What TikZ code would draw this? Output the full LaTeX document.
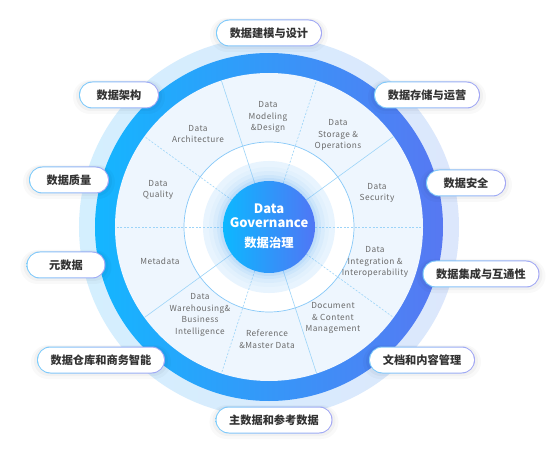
\documentclass[tikz,border=0pt]{standalone}
\usepackage{fontspec}
\setmainfont{Noto Sans CJK SC}
\newfontfamily\segfont[LetterSpace=5]{Noto Sans CJK SC}
\usetikzlibrary{calc}
\definecolor{lightL}{HTML}{D4EFFE}
\definecolor{lightR}{HTML}{DCE7FC}
\definecolor{ringL}{HTML}{14B6FF}
\definecolor{ringR}{HTML}{5778F2}
\definecolor{innerbg}{HTML}{EEF6FE}
\definecolor{discbg}{HTML}{E8F4FE}
\definecolor{ringline}{HTML}{86C8F8}
\definecolor{linec}{HTML}{9DD4F8}
\definecolor{cenL}{HTML}{0CB8FF}
\definecolor{cenR}{HTML}{5076F5}
\definecolor{segtext}{HTML}{6A6A6A}
\definecolor{pilltext}{HTML}{333333}
\definecolor{pillL}{HTML}{7CCCFB}
\definecolor{pillR}{HTML}{A3A6F4}
\newcommand\pillbox[5]{%
  \fill[black,opacity=0.025,rounded corners=17pt] (#2-#4/2-6,#3-19) rectangle (#2+#4/2+6,#3+15);
  \fill[black,opacity=0.03,rounded corners=15pt] (#2-#4/2-3,#3-16) rectangle (#2+#4/2+3,#3+14);
  \shade[left color=pillL, right color=pillR, rounded corners=13.4pt] (#2-#4/2,#3-13.5) rectangle (#2+#4/2,#3+13.5);
  \node[pill, minimum width=#4pt-2pt] (#1) at (#2,#3) {#5};%
}
\begin{document}
\begin{tikzpicture}[x=1pt,y=1pt,
  seg/.style={font=\segfont\fontsize{8.3}{11.7}\selectfont, text=segtext, align=center, inner sep=0pt},
  pill/.style={fill=white, rounded corners=12.4pt, minimum height=25pt, inner sep=0pt,
    font=\bfseries\fontsize{11.2}{13}\selectfont, text=pilltext},
  solidline/.style={draw=linec, line width=0.6pt},
  dashline/.style={draw=linec, line width=0.6pt, dash pattern=on 2pt off 1.6pt},
  centxt/.style={text=white, font=\bfseries\fontsize{13}{15}\selectfont, inner sep=0pt},
  centxtb/.style={text=white, font=\bfseries\fontsize{12.3}{14}\selectfont, inner sep=0pt}]
\useasboundingbox (-269,-225) rectangle (285,227);
\fill[white] (-269,-225) rectangle (285,227);
% rings
\shade[left color=lightL, right color=lightR] (0,0) circle (190pt);
\shade[left color=ringL, right color=ringR] (0,0) circle (174pt);
\fill[innerbg] (0,0) circle (154pt);
\fill[white] (0,0) circle (85pt);
\draw[ringline, line width=0.7pt] (0,0) circle (85pt);
\fill[discbg] (0,0) circle (66pt);
% dividers
\foreach \a in {36,108,216,288} \draw[solidline] (\a:46) -- (\a:154);
\foreach \a in {0,72,144,180,252,324} \draw[dashline] (\a:46) -- (\a:154);
% center glow and circle
\foreach \r/\o in {60/0.03,56/0.05,52/0.07,49/0.09} \fill[ringR!50!ringL, opacity=\o] (0,0) circle (\r pt);
\node[circle, minimum size=92pt, inner sep=0pt, left color=cenL, right color=cenR] (gov) at (0,0) {};
\node[centxt] (gov1) at (0,18.5) {Data};
\node[centxt] (gov2) at (0,4.5) {Governance};
\node[centxtb] (gov3) at (0,-16) {数据治理};
% segment labels
\node[seg] (s1) at (-1,110) {Data\\Modeling\\\&Design};
\node[seg] (s2) at (69,92) {Data\\Storage \&\\Operations};
\node[seg] (s3) at (108,34) {Data\\Security};
\node[seg] (s4) at (106,-35) {Data\\Integration \&\\Interoperability};
\node[seg] (s5) at (64,-91) {Document\\\& Content\\Management};
\node[seg] (s6) at (-2,-112) {Reference\\\&Master Data};
\node[seg] (s7) at (-69,-88) {Data\\Warehousing\&\\Business\\Intelligence};
\node[seg] (s8) at (-109,-34) {Metadata};
\node[seg] (s9) at (-111,37) {Data\\Quality};
\node[seg] (s10) at (-71,93) {Data\\Architecture};
% pills
\pillbox{p1}{0}{194}{106}{数据建模与设计}
\pillbox{p2}{158}{132}{106}{数据存储与运营}
\pillbox{p3}{197}{44}{80}{数据安全}
\pillbox{p4}{212}{-47}{117}{数据集成与互通性}
\pillbox{p5}{153}{-133}{106}{文档和内容管理}
\pillbox{p6}{5}{-193}{117}{主数据和参考数据}
\pillbox{p7}{-168}{-133}{128}{数据仓库和商务智能}
\pillbox{p8}{-203}{-38}{79}{元数据}
\pillbox{p9}{-200}{47}{80}{数据质量}
\pillbox{p10}{-150}{132}{80}{数据架构}
\end{tikzpicture}
\end{document}
